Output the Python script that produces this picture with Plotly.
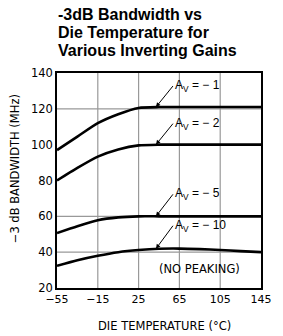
import plotly.graph_objects as go

temp = [-55, -35, -15, 5, 25, 45, 65, 85, 105, 125, 145]
bw_av1 = [97, 104.5, 112, 117, 120.5, 121, 121, 121, 121, 121, 121]
bw_av2 = [80, 87, 93.3, 97.3, 99.6, 100, 100, 100, 100, 100, 100]
bw_av5 = [50.7, 54.5, 57.8, 59.4, 60, 60, 60, 60, 60, 60, 60]
bw_av10 = [32.4, 35.5, 38, 40, 41.2, 41.9, 42, 41.7, 41.2, 40.6, 40]
series = [("-1", bw_av1), ("-2", bw_av2), ("-5", bw_av5), ("-10", bw_av10)]
label_points = [(42, 121), (42, 100), (42, 60), (42, 41.9)]
label_offsets = [-21, -21, -22, -23]

title_lines = ["-3dB Bandwidth vs", "Die Temperature for", "Various Inverting Gains"]
x_ticks = [-55, -15, 25, 65, 105, 145]
x_ticklabels = ["−55", "−15", "25", "65", "105", "145"]
y_ticks = [20, 40, 60, 80, 100, 120, 140]
grid_y = [40, 60, 120]
grid_x = [-15, 25, 65, 105]

W, H = 283, 336
L, R, T, B = 57, 11, 73, 48
PW, PH = W - L - R, H - T - B

def px_x(p):
    return (p - L) / PW

def px_y(p):
    return (H - B - p) / PH

draft = "DejaVu Sans"
fig = go.Figure()
for name, vals in series:
    fig.add_trace(go.Scatter(x=temp, y=vals, mode="lines",
                             line=dict(color="black", width=2.6, shape="spline", smoothing=0.6),
                             showlegend=False, hoverinfo="skip"))

for gx in grid_x:
    fig.add_shape(type="line", x0=gx, x1=gx, y0=20, y1=140, xref="x", yref="y",
                  line=dict(color="#999999", width=1.2), layer="below")
for gy in grid_y:
    fig.add_shape(type="line", x0=-55, x1=145, y0=gy, y1=gy, xref="x", yref="y",
                  line=dict(color="#999999", width=1.2), layer="below")

for (name, _), (px, py), off in zip(series, label_points, label_offsets):
    fig.add_annotation(x=px, y=py, xref="x", yref="y", text="A<sub>V</sub> = − " + name.lstrip("-"),
                       showarrow=True, arrowhead=2, arrowsize=0.9, arrowwidth=1, arrowcolor="black",
                       ax=17, ay=off, xanchor="left", yanchor="middle",
                       font=dict(family="Liberation Sans", size=12, color="black"))

fig.add_annotation(x=px_x(207), y=px_y(269), xref="paper", yref="paper", text="(NO PEAKING)",
                   showarrow=False, xanchor="center", yanchor="middle",
                   font=dict(family=draft, size=11.5, color="black"))

for i, line in enumerate(title_lines):
    fig.add_annotation(x=px_x(56), y=px_y(14 + 18.3 * i), xref="paper", yref="paper",
                       text="<b>" + line + "</b>", showarrow=False, xanchor="left", yanchor="middle",
                       font=dict(family="Liberation Sans", size=16, color="black"))

fig.add_annotation(x=px_x(13), y=px_y(169), xref="paper", yref="paper", text="−3 dB BANDWIDTH (MHz)",
                   textangle=-90, showarrow=False, xanchor="center", yanchor="middle",
                   font=dict(family=draft, size=11.5, color="black"))
fig.add_annotation(x=px_x(170), y=px_y(326), xref="paper", yref="paper", text="DIE TEMPERATURE (°C)",
                   showarrow=False, xanchor="center", yanchor="middle",
                   font=dict(family=draft, size=11.5, color="black"))

fig.update_layout(
    width=W, height=H,
    margin=dict(l=L, r=R, t=T, b=B),
    paper_bgcolor="white", plot_bgcolor="white",
    xaxis=dict(range=[-55, 145], tickvals=x_ticks, ticktext=x_ticklabels, showgrid=False, zeroline=False,
               showline=True, linecolor="black", linewidth=1.5, mirror=True, ticks="", ticklen=0,
               tickfont=dict(family=draft, size=11, color="black")),
    yaxis=dict(range=[20, 140], tickvals=y_ticks, showgrid=False, zeroline=False,
               showline=True, linecolor="black", linewidth=1.5, mirror=True, ticks="", ticklen=0,
               tickfont=dict(family=draft, size=11.5, color="black")),
)
fig.write_html("out.html", config={"displayModeBar": False},
               post_script="document.body.style.margin='0';document.body.style.overflow='hidden';")
